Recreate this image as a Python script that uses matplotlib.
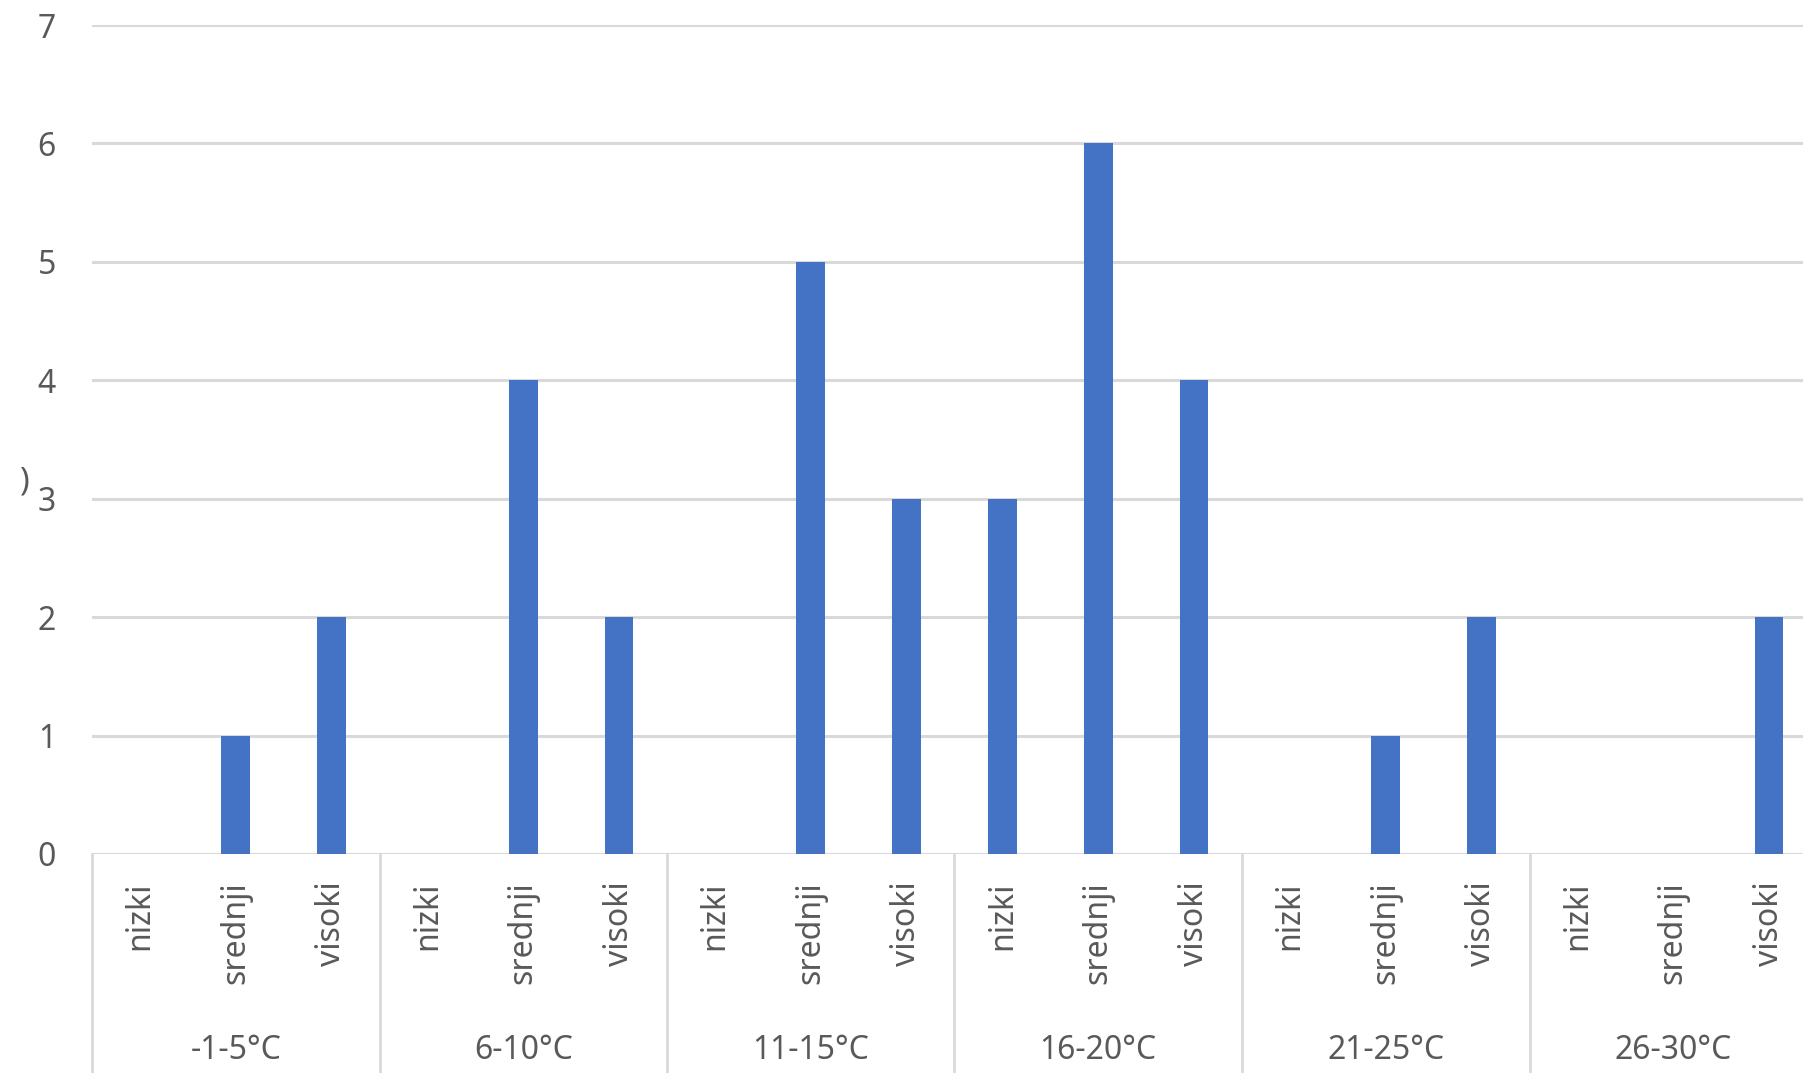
import numpy as np
import matplotlib.pyplot as plt
import matplotlib.transforms as mtransforms

plt.rcParams['font.family'] = ['Noto Sans', 'DejaVu Sans']

groups = ["-1-5°C", "6-10°C", "11-15°C", "16-20°C", "21-25°C", "26-30°C"]
levels = ["nizki", "srednji", "visoki"]
nizki = [0, 0, 0, 3, 0, 0]
srednji = [1, 4, 5, 6, 1, 0]
visoki = [2, 2, 3, 4, 2, 2]

values = []
labels = []
for i in range(len(groups)):
    values += [nizki[i], srednji[i], visoki[i]]
    labels += levels

x = np.arange(len(values))
txt = "#595959"
grid = "#d9d9d9"
fs = 23

fig = plt.figure(figsize=(18.03, 10.73), dpi=100)
ax = fig.add_axes([92 / 1803, 1 - 854 / 1073, 1725 / 1803, 829 / 1073])

ax.bar(x, values, width=0.3, color="#4472C4", zorder=3)

ax.set_xlim(-0.5, len(values) - 0.5)
ax.set_ylim(0, 7)
ax.set_yticks(range(0, 8))
ax.yaxis.grid(True, color=grid, linewidth=2.2, zorder=0)
ax.tick_params(axis="y", length=0, pad=26, labelsize=fs, labelcolor=txt)
ax.set_xticks(x)
ax.set_xticklabels(labels, rotation=90, va="top", ha="center")
ax.tick_params(axis="x", length=0, pad=20, labelsize=fs, labelcolor=txt)
for s in ax.spines.values():
    s.set_visible(False)
ax.axhline(0, color=grid, linewidth=2.2, zorder=2)

trans = mtransforms.blended_transform_factory(ax.transData, ax.transAxes)
for i in range(len(groups) + 1):
    xb = i * 3 - 0.5
    ax.plot([xb, xb], [0, -0.3], color=grid, linewidth=2, transform=trans,
            clip_on=False)
for i, g in enumerate(groups):
    ax.text(i * 3 + 1, -0.237, g, transform=trans, ha="center", va="center",
            fontsize=fs, color=txt)

fig.text(25 / 1803, 1 - 482 / 1073, ")", ha="center", va="center",
         fontsize=fs, color=txt)

fig.savefig("out.png", dpi=100)
